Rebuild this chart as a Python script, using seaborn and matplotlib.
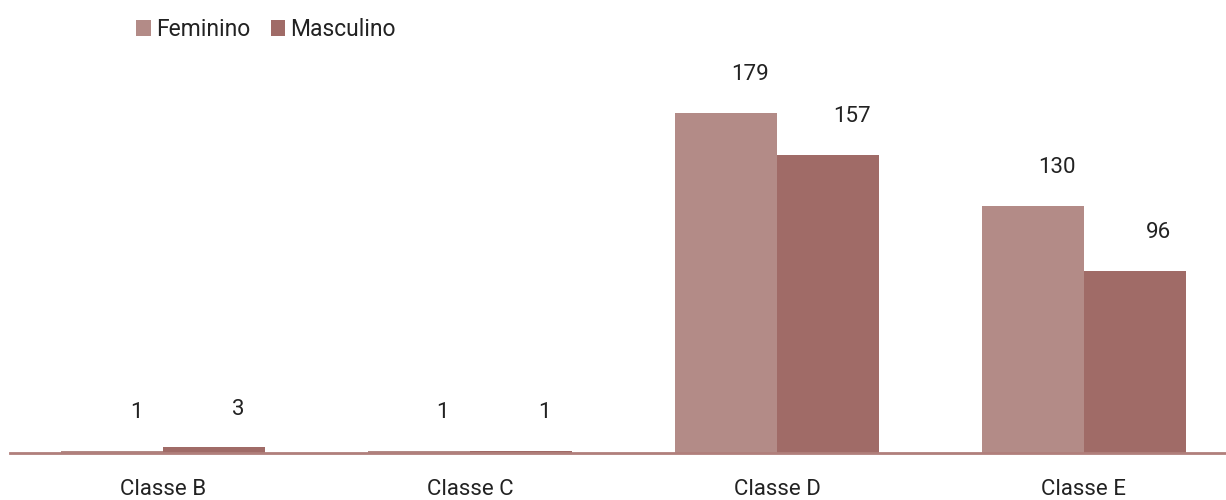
import matplotlib
matplotlib.use("Agg")
import matplotlib.pyplot as plt
import seaborn as sns
import pandas as pd

categories = ["Classe B", "Classe C", "Classe D", "Classe E"]
feminino = [1, 1, 179, 130]
masculino = [3, 1, 157, 96]
series_names = ["Feminino", "Masculino"]
colors = ["#B38B87", "#A06B67"]

df = pd.DataFrame({
    "Classe": categories * 2,
    "Sexo": [series_names[0]] * 4 + [series_names[1]] * 4,
    "Valor": feminino + masculino,
})

sns.set_theme(style="white")
plt.rcParams["font.family"] = ["Roboto", "DejaVu Sans"]

fig = plt.figure(figsize=(12.26, 5.0), dpi=100)
ax = fig.add_axes([10 / 1226, 47 / 500, 1 - 10 / 1226, 413 / 500])

sns.barplot(data=df, x="Classe", y="Valor", hue="Sexo", palette=colors,
            width=0.665, ax=ax, saturation=1, legend=True, linewidth=0)

for cont in ax.containers:
    for bar in cont:
        h = bar.get_height()
        ax.annotate(f"{h:.0f}", xy=(bar.get_x() + bar.get_width() / 2, h),
                    xytext=(17, 20), textcoords="offset points",
                    ha="center", va="bottom", fontsize=16, color="#222222")

ax.set_xlim(-0.5, 3.463)
ax.set_ylim(0, 217.4)
ax.set_xlabel("")
ax.set_ylabel("")
ax.set_yticks([])
for s in ["top", "right", "left"]:
    ax.spines[s].set_visible(False)
ax.spines["bottom"].set_color("#B07F7B")
ax.spines["bottom"].set_linewidth(2)
ax.tick_params(axis="x", length=0, pad=19, labelsize=16, colors="#222222")

leg = ax.legend(loc="upper left", bbox_to_anchor=(118 / 1226, 1.075), ncol=2,
                frameon=False, fontsize=16.5, handlelength=0.65, handleheight=0.65,
                handletextpad=0.2, columnspacing=0.9, borderaxespad=0)
for t in leg.get_texts():
    t.set_color("#222222")

fig.savefig("out.png", dpi=100)
